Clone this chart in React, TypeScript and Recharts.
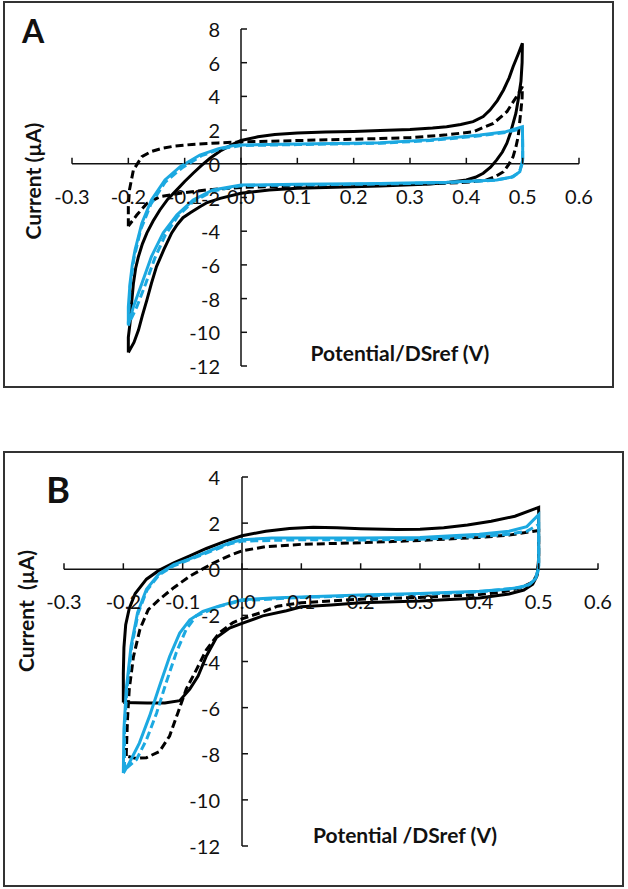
import React from "react";
import { LineChart, Line, XAxis, YAxis, ReferenceLine } from "recharts";

type Pt = [number, number];

// shared axis ticks
const xTicks = [-0.3, -0.2, -0.1, 0, 0.1, 0.2, 0.3, 0.4, 0.5, 0.6];
const yTicksA = [8, 6, 4, 2, 0, -2, -4, -6, -8, -10, -12];
const yTicksB = [4, 2, 0, -2, -4, -6, -8, -10, -12];

// Panel A voltammograms (potential V, current µA), traced as closed loops
const aBlackSolid: Pt[] = [
  [-0.2, -11.2], [-0.2, -10.3], [-0.197, -9.47], [-0.194, -8.2], [-0.191, -7.1], [-0.187, -6.2],
  [-0.182, -5.5], [-0.175, -4.75], [-0.167, -4.1], [-0.156, -3.4], [-0.144, -2.74], [-0.13, -2.1],
  [-0.114, -1.55], [-0.1, -1.05], [-0.085, -0.56], [-0.07, -0.1], [-0.055, 0.33], [-0.035, 0.8],
  [-0.015, 1.15], [0, 1.38], [0.03, 1.6], [0.06, 1.74], [0.1, 1.83], [0.15, 1.88], [0.2, 1.92],
  [0.247, 1.97], [0.3, 2.03], [0.34, 2.12], [0.365, 2.2], [0.39, 2.33], [0.412, 2.5], [0.43, 2.8],
  [0.442, 3.19], [0.455, 3.75], [0.466, 4.38], [0.476, 5.1], [0.483, 5.76], [0.492, 6.5], [0.4995, 7.15],
  [0.499, 6.0], [0.497, 4.9], [0.492, 3.79], [0.488, 3.0], [0.483, 2.4], [0.478, 1.8], [0.472, 1.22],
  [0.464, 0.7], [0.454, 0.23], [0.443, -0.2], [0.43, -0.56], [0.416, -0.8], [0.4, -0.96], [0.37, -1.1],
  [0.336, -1.2], [0.247, -1.32], [0.15, -1.4], [0.1, -1.45], [0.05, -1.55], [0, -1.75], [-0.037, -2.05],
  [-0.06, -2.3], [-0.073, -2.55], [-0.09, -2.9], [-0.103, -3.2], [-0.113, -3.6], [-0.123, -4.1],
  [-0.137, -5.1], [-0.15, -6.1], [-0.159, -7.1], [-0.167, -8.08], [-0.175, -9.0], [-0.182, -9.87],
  [-0.19, -10.6], [-0.2, -11.2],
];
const aBlackDash: Pt[] = [
  [-0.2, -3.7], [-0.2, -2.55], [-0.198, -1.55], [-0.191, -0.37], [-0.176, 0.42], [-0.16, 0.72],
  [-0.14, 0.92], [-0.12, 1.04], [-0.087, 1.15], [-0.04, 1.24], [0, 1.3], [0.1, 1.38], [0.247, 1.5],
  [0.3, 1.55], [0.365, 1.72], [0.412, 1.9], [0.448, 2.4], [0.472, 3.09], [0.489, 3.98], [0.4995, 4.58],
  [0.499, 3.9], [0.497, 3.2], [0.492, 1.61], [0.488, 1.0], [0.483, 0.42], [0.475, -0.05], [0.466, -0.47],
  [0.452, -0.75], [0.436, -0.96], [0.4, -1.1], [0.365, -1.15], [0.3, -1.22], [0.2, -1.28], [0.1, -1.33],
  [0, -1.4], [-0.061, -1.55], [-0.108, -1.75], [-0.144, -1.95], [-0.167, -2.35], [-0.185, -3.04],
  [-0.2, -3.7],
];
const aBlueSolid: Pt[] = [
  [-0.2, -9.6], [-0.2, -8.5], [-0.197, -7.1], [-0.193, -6.0], [-0.188, -5.1], [-0.176, -3.53],
  [-0.159, -2.15], [-0.135, -0.96], [-0.108, -0.17], [-0.073, 0.52], [-0.04, 0.9], [-0.015, 1.07],
  [0, 1.12], [0.1, 1.17], [0.2, 1.22], [0.247, 1.25], [0.336, 1.42], [0.424, 1.71], [0.47, 1.9],
  [0.4995, 2.2], [0.5, 1.2], [0.5, 0.22], [0.495, -0.47], [0.483, -0.77], [0.454, -0.96], [0.365, -1.1],
  [0.247, -1.17], [0.1, -1.22], [0, -1.26], [-0.05, -1.55], [-0.085, -2.15], [-0.114, -3.04],
  [-0.138, -4.1], [-0.159, -5.5], [-0.176, -7.1], [-0.191, -8.48], [-0.2, -9.6],
];
const aBlueDash: Pt[] = [
  [-0.2, -9.5], [-0.197, -7.3], [-0.19, -5.6], [-0.178, -3.9], [-0.16, -2.4], [-0.135, -1.1],
  [-0.105, -0.25], [-0.07, 0.48], [-0.035, 0.9], [0, 1.08], [0.1, 1.14], [0.247, 1.22], [0.336, 1.38],
  [0.424, 1.66], [0.47, 1.86], [0.4995, 2.1], [0.5, 1.0], [0.5, 0.1], [0.494, -0.5], [0.48, -0.8],
  [0.45, -0.98], [0.365, -1.12], [0.247, -1.2], [0.1, -1.25], [0, -1.3], [-0.05, -1.62], [-0.085, -2.25],
  [-0.112, -3.1], [-0.134, -4.2], [-0.153, -5.6], [-0.169, -7.1], [-0.185, -8.5], [-0.198, -9.4],
  [-0.2, -9.5],
];

// Panel B voltammograms
const bBlackSolid: Pt[] = [
  [-0.2, -5.78], [-0.2, -4.5], [-0.199, -3.4], [-0.196, -2.4], [-0.19, -1.7], [-0.18, -1.05],
  [-0.161, -0.43], [-0.14, -0.05], [-0.115, 0.28], [-0.088, 0.58], [-0.06, 0.9], [-0.03, 1.2],
  [0, 1.45], [0.04, 1.65], [0.08, 1.77], [0.12, 1.82], [0.16, 1.8], [0.2, 1.76], [0.26, 1.72],
  [0.3, 1.73], [0.34, 1.8], [0.38, 1.92], [0.42, 2.08], [0.46, 2.3], [0.5, 2.68], [0.5, 1.5],
  [0.5, 0.3], [0.497, -0.3], [0.49, -0.65], [0.475, -0.9], [0.45, -1.07], [0.4, -1.25], [0.3, -1.38],
  [0.2, -1.45], [0.15, -1.55], [0.1, -1.63], [0.075, -1.8], [0.035, -2.02], [0, -2.35], [-0.021, -2.55],
  [-0.043, -2.96], [-0.06, -3.76], [-0.074, -4.63], [-0.088, -5.2], [-0.105, -5.7], [-0.13, -5.8],
  [-0.16, -5.8], [-0.2, -5.78],
];
const bBlackDash: Pt[] = [
  [-0.195, -8.1], [-0.195, -7.97], [-0.193, -6.5], [-0.19, -5.2], [-0.183, -3.8], [-0.172, -2.6],
  [-0.158, -1.75], [-0.139, -1.3], [-0.115, -0.8], [-0.088, -0.3], [-0.05, 0.25], [-0.02, 0.6],
  [0, 0.8], [0.04, 0.98], [0.1, 1.08], [0.2, 1.15], [0.3, 1.25], [0.4, 1.38], [0.45, 1.48], [0.5, 1.68],
  [0.5, 0.5], [0.498, -0.2], [0.49, -0.55], [0.47, -0.8], [0.44, -0.98], [0.4, -1.1], [0.3, -1.22],
  [0.2, -1.3], [0.1, -1.45], [0.06, -1.6], [0.035, -1.85], [0, -2.15], [-0.015, -2.31], [-0.038, -2.75],
  [-0.06, -3.49], [-0.077, -4.36], [-0.094, -5.2], [-0.108, -6.22], [-0.122, -7.23], [-0.139, -7.9],
  [-0.161, -8.17], [-0.18, -8.2], [-0.195, -8.1],
];
const bBlueSolid: Pt[] = [
  [-0.2, -8.84], [-0.199, -6.94], [-0.195, -5.2], [-0.187, -3.33], [-0.176, -1.88], [-0.161, -0.87],
  [-0.14, -0.2], [-0.115, 0.2], [-0.088, 0.45], [-0.05, 0.85], [-0.02, 1.15], [0, 1.28], [0.05, 1.35],
  [0.1, 1.36], [0.2, 1.35], [0.3, 1.38], [0.4, 1.52], [0.45, 1.65], [0.48, 1.85], [0.5, 2.37],
  [0.5, 1.0], [0.5, 0.1], [0.495, -0.4], [0.485, -0.65], [0.47, -0.78], [0.44, -0.88], [0.4, -0.95],
  [0.3, -1.05], [0.2, -1.12], [0.1, -1.2], [0.05, -1.25], [0, -1.32], [-0.038, -1.59], [-0.066, -1.83],
  [-0.088, -2.19], [-0.105, -2.77], [-0.122, -3.78], [-0.139, -5.06], [-0.156, -6.38], [-0.173, -7.54],
  [-0.19, -8.4], [-0.2, -8.84],
];
const bBlueDash: Pt[] = [
  [-0.198, -8.7], [-0.198, -6.9], [-0.194, -5.2], [-0.186, -3.35], [-0.175, -1.9], [-0.16, -0.9],
  [-0.14, -0.25], [-0.115, 0.15], [-0.088, 0.42], [-0.05, 0.8], [-0.02, 1.1], [0, 1.22], [0.1, 1.28],
  [0.2, 1.27], [0.3, 1.3], [0.4, 1.42], [0.45, 1.52], [0.48, 1.65], [0.5, 1.94], [0.5, 0.8],
  [0.5, 0.0], [0.494, -0.45], [0.483, -0.68], [0.46, -0.82], [0.4, -0.98], [0.3, -1.08], [0.2, -1.15],
  [0.1, -1.22], [0, -1.36], [-0.04, -1.62], [-0.077, -2.02], [-0.094, -2.6], [-0.111, -3.63],
  [-0.128, -4.93], [-0.144, -6.24], [-0.161, -7.39], [-0.178, -8.26], [-0.198, -8.7],
];

const BLUE = "#1CA9E1";
const INK = "#111111";
const FONT = "Lato, 'Open Sans', sans-serif";
const X_AXIS_H = 30;
const Y_AXIS_W = 40;

function toRows(pts: Pt[]) {
  return pts.map(([x, y]) => ({ x, y }));
}

interface Margin {
  top: number;
  right: number;
  bottom: number;
  left: number;
}

interface CvChartProps {
  width: number;
  height: number;
  plot: Margin; // distance from svg edges to the plot area
  yDomain: [number, number];
  yTicks: number[];
  blackSolid: Pt[];
  blackDash: Pt[];
  blueSolid: Pt[];
  blueDash: Pt[];
  labelGap: number;
}

function CvChart(p: CvChartProps) {
  const plotW = p.width - p.plot.left - p.plot.right;
  const plotH = p.height - p.plot.top - p.plot.bottom;
  // where the axes cross (0,0) inside the svg
  const zeroX = p.plot.left + (0.3 / 0.9) * plotW;
  const zeroY = p.plot.top + (p.yDomain[1] / (p.yDomain[1] - p.yDomain[0])) * plotH;

  const xTick = (props: any) => {
    const { x, payload } = props;
    return (
      <g>
        <line x1={x} x2={x} y1={zeroY} y2={zeroY - 6} stroke={INK} strokeWidth={1.5} />
        <text x={x} y={zeroY + 32} textAnchor="middle" dominantBaseline="central"
          fontSize={20} fontFamily={FONT} fill={INK}>
          {Number(payload.value).toFixed(1)}
        </text>
      </g>
    );
  };

  const yTick = (props: any) => {
    const { y, payload } = props;
    return (
      <g>
        <line x1={zeroX} x2={zeroX + 6} y1={y} y2={y} stroke={INK} strokeWidth={1.5} />
        <text x={zeroX - p.labelGap} y={y} textAnchor="end" dominantBaseline="central"
          fontSize={20} fontFamily={FONT} fill={INK}>
          {String(payload.value)}
        </text>
      </g>
    );
  };

  const common = { dataKey: "y", type: "linear" as const, dot: false, activeDot: false, isAnimationActive: false };
  const margin = {
    top: p.plot.top,
    right: p.plot.right,
    bottom: p.plot.bottom - X_AXIS_H,
    left: p.plot.left - Y_AXIS_W,
  };

  return (
    <LineChart width={p.width} height={p.height} margin={margin}>
      <XAxis dataKey="x" type="number" domain={[-0.3, 0.6]} ticks={xTicks} interval={0}
        height={X_AXIS_H} axisLine={false} tickLine={false} tick={xTick} allowDataOverflow />
      <YAxis type="number" domain={p.yDomain} ticks={p.yTicks} interval={0}
        width={Y_AXIS_W} axisLine={false} tickLine={false} tick={yTick} allowDataOverflow />
      <ReferenceLine y={0} stroke={INK} strokeWidth={1.5} />
      <ReferenceLine x={0} stroke={INK} strokeWidth={1.5} />
      <Line {...common} data={toRows(p.blackSolid)} stroke="#000" strokeWidth={3} />
      <Line {...common} data={toRows(p.blackDash)} stroke="#000" strokeWidth={3} strokeDasharray="8 4" />
      <Line {...common} data={toRows(p.blueDash)} stroke={BLUE} strokeWidth={3} strokeDasharray="8 4" />
      <Line {...common} data={toRows(p.blueSolid)} stroke={BLUE} strokeWidth={3} />
    </LineChart>
  );
}

const boxStyle: React.CSSProperties = {
  position: "absolute",
  border: "2px solid #333",
  boxSizing: "border-box",
};

export default function App() {
  return (
    <div style={{ position: "absolute", left: 0, top: 0, width: 628, height: 889, background: "#fff" }}>
      <div style={{ ...boxStyle, left: 3, top: 1, width: 611, height: 387 }} />
      <div style={{ ...boxStyle, left: 3, top: 451, width: 621, height: 436 }} />

      <div style={{ position: "absolute", left: 0, top: 0 }}>
        <CvChart width={628} height={400} plot={{ top: 29, right: 49, bottom: 34, left: 72 }}
          yDomain={[-12, 8]} yTicks={yTicksA} labelGap={21}
          blackSolid={aBlackSolid} blackDash={aBlackDash} blueSolid={aBlueSolid} blueDash={aBlueDash} />
      </div>
      <div style={{ position: "absolute", left: 0, top: 440 }}>
        <CvChart width={628} height={449} plot={{ top: 37, right: 30, bottom: 43, left: 64 }}
          yDomain={[-12, 4]} yTicks={yTicksB} labelGap={22}
          blackSolid={bBlackSolid} blackDash={bBlackDash} blueSolid={bBlueSolid} blueDash={bBlueDash} />
      </div>

      <svg width={628} height={889} style={{ position: "absolute", left: 0, top: 0, pointerEvents: "none" }}
        fontFamily={FONT} fill={INK} fontWeight={700}>
        <text x={33} y={30} fontSize={32} textAnchor="middle" dominantBaseline="central">A</text>
        <text x={58} y={489} fontSize={36} textAnchor="middle" dominantBaseline="central">B</text>
        <text x={32} y={181} fontSize={21} textAnchor="middle" dominantBaseline="central"
          transform="rotate(-90 32 181)">Current (µA)</text>
        <text x={25} y={611} fontSize={21} textAnchor="middle" dominantBaseline="central"
          transform="rotate(-90 25 611)" style={{ whiteSpace: "pre" }}>{"Current  (µA)"}</text>
        <text x={400} y={352} fontSize={21} textAnchor="middle" dominantBaseline="central">Potential/DSref (V)</text>
        <text x={405} y={834} fontSize={21} textAnchor="middle" dominantBaseline="central"
          style={{ whiteSpace: "pre" }}>{"Potential /DSref (V)"}</text>
      </svg>
    </div>
  );
}
